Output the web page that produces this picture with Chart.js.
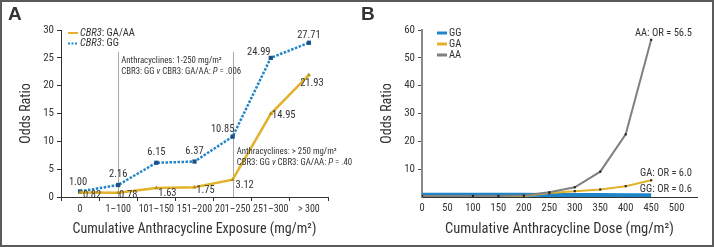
<!DOCTYPE html>
<html>
<head>
<meta charset="utf-8">
<script src="https://cdn.jsdelivr.net/npm/chart.js@4/dist/chart.umd.min.js"></script>
<style>
    html, body { margin: 0; padding: 0; background: #fff; }
    #chartA { position: absolute; left: 0; top: 0; }
    #chartB { position: absolute; left: 357px; top: 0; }
    #frame {
        position: absolute; left: 0; top: 0; width: 714px; height: 247px;
        box-sizing: border-box; border: 2px solid #5b5b5b; pointer-events: none;
    }
</style>
</head>
<body>
<canvas id="chartA" width="357" height="247"></canvas>
<canvas id="chartB" width="357" height="247"></canvas>
<div id="frame"></div>
<script>
// ---- Panel A data ----
var exposureLabels = ['0', '1–100', '101–150', '151–200', '201–250', '251–300', '> 300'];
var ggOdds = [1.00, 2.16, 6.15, 6.37, 10.85, 24.99, 27.71];
var gaaaOdds = [0.82, 0.78, 1.63, 1.75, 3.12, 14.95, 21.93];
var oddsTicksA = [0, 5, 10, 15, 20, 25, 30];

// ---- Panel B data ----
var doseSteps = [0, 100, 150, 200, 250, 300, 350, 400, 450];
var ggDoseOdds = [0.8, 0.8, 0.8, 0.8, 0.7, 0.7, 0.7, 0.6, 0.6];
var gaDoseOdds = [0.3, 0.3, 0.3, 0.4, 1.4, 2.1, 2.7, 3.9, 6.0];
var aaDoseOdds = [0.3, 0.4, 0.4, 0.5, 1.7, 3.5, 9.1, 22.5, 56.5];
var doseTicksB = [0, 50, 100, 150, 200, 250, 300, 350, 400, 450, 500];
var oddsTicksB = [10, 20, 30, 40, 50, 60];

var FONT = "'Roboto Condensed', 'Liberation Sans', Arial, sans-serif";
var TEXT = '#333';
var GOLD = '#e2b22a';
var BLUE = '#1f85c7';
var NAVY = '#1d4f86';

// label offsets (dx, dy) for the value labels in panel A
var ggLabelShift = [[-2, -9], [0, -11], [0, -10], [0, -10], [-10, -7], [-12, -6], [0, -7]];
var gaaaLabelShift = [[12, 3], [10, 3], [11, 5], [11, 3], [12, 6], [13, 2], [3, 8]];

Chart.defaults.font.family = FONT;
Chart.defaults.color = TEXT;
Chart.defaults.animation = false;

function drawRich(ctx, x, y, parts, size) {
    parts.forEach(function(p) {
        ctx.font = (p[1] ? 'italic ' : '') + size + 'px ' + FONT;
        ctx.fillText(p[0], x, y);
        x += ctx.measureText(p[0]).width;
    });
}

var panelAPlugin = {
    id: 'panelA',
    beforeDatasetsDraw: function(chart) {
        var ctx = chart.ctx, x = chart.scales.x, y = chart.scales.y;
        ctx.save();
        ctx.strokeStyle = '#a8a8a8';
        ctx.lineWidth = 1;
        [1, 4].forEach(function(i) {
            var px = Math.round(x.getPixelForValue(i)) + 0.5;
            ctx.beginPath();
            ctx.moveTo(px, 52);
            ctx.lineTo(px, y.getPixelForValue(0));
            ctx.stroke();
        });
        ctx.restore();
    },
    afterDraw: function(chart) {
        var ctx = chart.ctx, x = chart.scales.x, y = chart.scales.y;
        ctx.save();
        ctx.fillStyle = TEXT;
        ctx.textBaseline = 'middle';
        ctx.textAlign = 'left';

        // panel letter
        ctx.font = 'bold 19px ' + "'Liberation Sans', Arial, sans-serif";
        ctx.fillText('A', 8, 15);

        // legend
        ctx.lineWidth = 2;
        ctx.strokeStyle = GOLD;
        ctx.beginPath(); ctx.moveTo(68, 33); ctx.lineTo(78, 33); ctx.stroke();
        ctx.strokeStyle = BLUE;
        ctx.setLineDash([2, 1.5]);
        ctx.beginPath(); ctx.moveTo(68, 43.5); ctx.lineTo(78, 43.5); ctx.stroke();
        ctx.setLineDash([]);
        drawRich(ctx, 80, 33, [['CBR3', true], [': GA/AA', false]], 10.5);
        drawRich(ctx, 80, 43.5, [['CBR3', true], [': GG', false]], 10.5);

        // annotations
        var x1 = x.getPixelForValue(1) + 3, x4 = x.getPixelForValue(4) + 4;
        drawRich(ctx, x1, 61, [['Anthracyclines: 1-250 mg/m²', false]], 8.8);
        drawRich(ctx, x1, 72, [['CBR3: GG ', false], ['v', true], [' CBR3: GA/AA: ', false], ['P', true], [' = .006', false]], 8.8);
        drawRich(ctx, x4, 152, [['Anthracyclines: > 250 mg/m²', false]], 8.8);
        drawRich(ctx, x4, 163, [['CBR3: GG ', false], ['v', true], [' CBR3: GA/AA: ', false], ['P', true], [' = .40', false]], 8.8);

        // value labels
        ctx.textAlign = 'center';
        ctx.font = '10.5px ' + FONT;
        ggOdds.forEach(function(v, i) {
            ctx.fillText(v.toFixed(2), x.getPixelForValue(i) + ggLabelShift[i][0], y.getPixelForValue(v) + ggLabelShift[i][1]);
        });
        gaaaOdds.forEach(function(v, i) {
            ctx.fillText(v.toFixed(2), x.getPixelForValue(i) + gaaaLabelShift[i][0], y.getPixelForValue(v) + gaaaLabelShift[i][1]);
        });
        ctx.restore();
    }
};

var panelBPlugin = {
    id: 'panelB',
    afterDraw: function(chart) {
        var ctx = chart.ctx;
        ctx.save();
        ctx.fillStyle = TEXT;
        ctx.textBaseline = 'middle';
        ctx.textAlign = 'left';
        ctx.font = 'bold 19px ' + "'Liberation Sans', Arial, sans-serif";
        ctx.fillText('B', 4, 15);

        // legend
        var items = [['GG', BLUE], ['GA', GOLD], ['AA', '#808080']];
        ctx.lineWidth = 3;
        ctx.font = '10.5px ' + FONT;
        items.forEach(function(it, i) {
            var ly = 33 + i * 11;
            ctx.strokeStyle = it[1];
            ctx.beginPath(); ctx.moveTo(80, ly); ctx.lineTo(90, ly); ctx.stroke();
            ctx.fillText(it[0], 92, ly);
        });

        // end labels
        ctx.textAlign = 'right';
        ctx.fillText('AA: OR = 56.5', 335, 33);
        ctx.fillText('GA: OR = 6.0', 335, 173);
        ctx.fillText('GG: OR = 0.6', 335, 189);
        ctx.restore();
    }
};

new Chart(document.getElementById('chartA'), {
    type: 'line',
    data: {
        labels: exposureLabels,
        datasets: [{
            label: 'CBR3: GA/AA',
            data: gaaaOdds,
            borderColor: GOLD,
            backgroundColor: '#b89220',
            borderWidth: 2.5,
            pointStyle: 'triangle',
            pointRadius: 2.5,
            pointBorderWidth: 0,
            tension: 0
        }, {
            label: 'CBR3: GG',
            data: ggOdds,
            borderColor: BLUE,
            backgroundColor: NAVY,
            borderWidth: 2.5,
            borderDash: [2.5, 1.5],
            pointStyle: 'rect',
            pointRadius: 3,
            pointBorderWidth: 0,
            tension: 0
        }]
    },
    options: {
        responsive: false,
        layout: { padding: { left: 0, right: 29, top: 30, bottom: 0 } },
        plugins: { legend: { display: false }, tooltip: { enabled: false } },
        scales: {
            x: {
                offset: true,
                grid: { offset: true, drawOnChartArea: false, drawTicks: true, tickLength: 4, color: '#333' },
                border: { color: '#333', width: 1 },
                ticks: { font: { size: 10 }, padding: 2, maxRotation: 0, autoSkip: false },
                title: { display: true, text: 'Cumulative Anthracycline Exposure (mg/m²)', font: { size: 14 }, padding: { top: 0, bottom: 9 } },
                afterFit: function(s) { s.height = 50; }
            },
            y: {
                min: 0, max: 30,
                afterBuildTicks: function(s) { s.ticks = oddsTicksA.map(function(v) { return { value: v }; }); },
                grid: { drawOnChartArea: false, drawTicks: true, tickLength: 4, color: '#333' },
                border: { color: '#333', width: 1 },
                ticks: { font: { size: 11 }, padding: 3 },
                title: { display: true, text: 'Odds Ratio', font: { size: 14 }, padding: { top: 18, bottom: 0 } },
                afterFit: function(s) { s.width = 61; }
            }
        }
    },
    plugins: [panelAPlugin]
});

new Chart(document.getElementById('chartB'), {
    type: 'line',
    data: {
        datasets: [{
            label: 'AA',
            data: doseSteps.map(function(d, i) { return { x: d, y: aaDoseOdds[i] }; }),
            borderColor: '#808080',
            backgroundColor: '#222',
            borderWidth: 2,
            pointStyle: 'rect',
            pointRadius: 1.5,
            pointBorderWidth: 0,
            tension: 0
        }, {
            label: 'GA',
            data: doseSteps.map(function(d, i) { return { x: d, y: gaDoseOdds[i] }; }),
            borderColor: GOLD,
            backgroundColor: '#222',
            borderWidth: 2,
            pointStyle: 'rect',
            pointRadius: 1.5,
            pointBorderWidth: 0,
            tension: 0
        }, {
            label: 'GG',
            data: doseSteps.map(function(d, i) { return { x: d, y: ggDoseOdds[i] }; }),
            borderColor: BLUE,
            borderWidth: 4,
            pointRadius: 0,
            tension: 0
        }]
    },
    options: {
        responsive: false,
        layout: { padding: { left: 0, right: 17, top: 30, bottom: 0 } },
        plugins: { legend: { display: false }, tooltip: { enabled: false } },
        scales: {
            x: {
                type: 'linear',
                min: 0, max: 540,
                afterBuildTicks: function(s) { s.ticks = doseTicksB.map(function(v) { return { value: v }; }); },
                grid: { display: false, drawTicks: false },
                border: { color: '#333', width: 1 },
                ticks: { font: { size: 10.5 }, padding: 5, maxRotation: 0 },
                title: { display: true, text: 'Cumulative Anthracycline Dose (mg/m²)', font: { size: 14.5 }, padding: { top: 0, bottom: 9 } },
                afterFit: function(s) { s.height = 50; }
            },
            y: {
                min: 0, max: 60,
                afterBuildTicks: function(s) { s.ticks = oddsTicksB.map(function(v) { return { value: v }; }); },
                grid: { drawOnChartArea: false, drawTicks: true, tickLength: 4, color: '#555' },
                border: { color: '#8a8a8a', width: 2 },
                ticks: { font: { size: 11 }, padding: 3 },
                title: { display: true, text: 'Odds Ratio', font: { size: 14 }, padding: { top: 22, bottom: 0 } },
                afterFit: function(s) { s.width = 65; }
            }
        }
    },
    plugins: [panelBPlugin]
});
</script>
</body>
</html>
